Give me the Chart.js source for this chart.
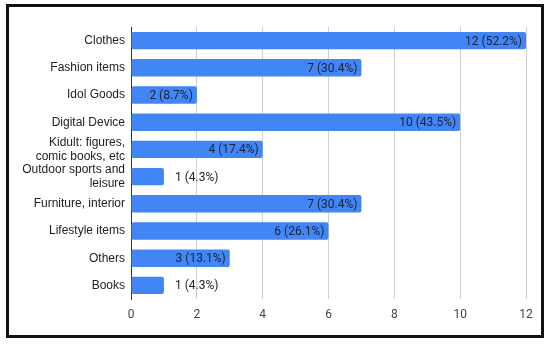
<!DOCTYPE html>
<html>
<head>
<meta charset="utf-8">
<script src="https://cdn.jsdelivr.net/npm/chart.js@4.4.1/dist/chart.umd.min.js"></script>
<style>
  html, body { margin: 0; padding: 0; background: #fff; }
  .frame {
    position: absolute; left: 6px; top: 4px;
    width: 532px; height: 328px;
    border: 3px solid #111;
  }
  .wrap { position: absolute; left: 0; top: 0; width: 550px; height: 345px; }
</style>
</head>
<body>
<div class="frame"></div>
<div class="wrap"><canvas id="chart"></canvas></div>
<script>
// ── Data ─────────────────────────────────────────
const categories = [
  'Clothes', 'Fashion items', 'Idol Goods', 'Digital Device',
  ['Kidult: figures,', 'comic books, etc'], ['Outdoor sports and', 'leisure'],
  'Furniture, interior', 'Lifestyle items', 'Others', 'Books',
];
const counts = [12, 7, 2, 10, 4, 1, 7, 6, 3, 1];
const percents = ['52.2', '30.4', '8.7', '43.5', '17.4', '4.3', '30.4', '26.1', '13.1', '4.3'];
const xTicks = [0, 2, 4, 6, 8, 10, 12];

const BAR_COLOR = '#4285f4';

// draws "n (p%)" inside the bar end, or just past it when it won't fit
const valueLabels = {
  id: 'valueLabels',
  afterDatasetsDraw(chart) {
    const { ctx } = chart;
    const meta = chart.getDatasetMeta(0);
    ctx.save();
    ctx.font = '12px Roboto';
    ctx.textBaseline = 'middle';
    meta.data.forEach((bar, i) => {
      const text = `${counts[i]} (${percents[i]}%)`;
      const w = ctx.measureText(text).width;
      const barW = bar.x - bar.base;
      if (w + 10 < barW) {
        ctx.fillStyle = '#1a2336';
        ctx.textAlign = 'right';
        ctx.fillText(text, bar.x - 4, bar.y + 1);
      } else {
        ctx.fillStyle = '#222';
        ctx.textAlign = 'left';
        ctx.fillText(text, bar.x + 11, bar.y + 1);
      }
    });
    ctx.restore();
  },
};

new Chart(document.getElementById('chart'), {
  type: 'bar',
  data: {
    labels: categories,
    datasets: [{
      data: counts,
      backgroundColor: BAR_COLOR,
      borderRadius: 2,
      borderSkipped: false,
      barPercentage: 0.8,
      categoryPercentage: 0.8,
    }],
  },
  options: {
    indexAxis: 'y',
    responsive: true,
    maintainAspectRatio: false,
    animation: false,
    layout: { padding: { top: 27, right: 24, left: 0, bottom: 0 } },
    plugins: {
      legend: { display: false },
      tooltip: { enabled: false },
    },
    scales: {
      x: {
        min: 0,
        max: 12,
        afterBuildTicks: (s) => { s.ticks = xTicks.map((v) => ({ value: v })); },
        afterFit: (s) => { s.height = 46; },
        grid: { color: '#d0d0d0', drawTicks: false },
        border: { display: false },
        ticks: { color: '#444', font: { family: 'Roboto', size: 12 }, padding: 9 },
      },
      y: {
        afterFit: (s) => { s.width = 131; },
        grid: { display: false, drawTicks: false },
        border: { display: true, color: '#333', width: 1 },
        ticks: { color: '#222', font: { family: 'Arial', size: 12 }, padding: 6, autoSkip: false },
      },
    },
  },
  plugins: [valueLabels],
});
</script>
</body>
</html>
